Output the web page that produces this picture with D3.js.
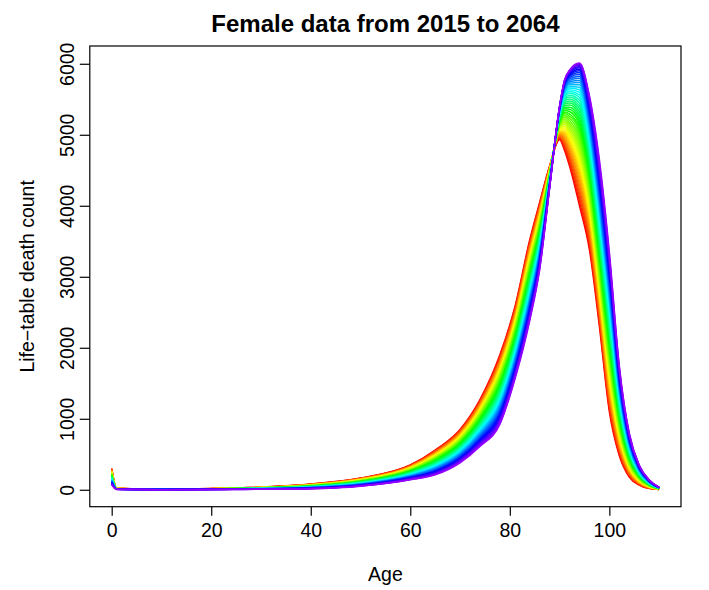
<!DOCTYPE html>
<html>
<head>
<meta charset="utf-8">
<script src="https://cdn.jsdelivr.net/npm/d3@7"></script>
<style>
  body { margin: 0; background: #fff; }
  text { font-family: "Liberation Sans", Arial, Helvetica, sans-serif; }
</style>
</head>
<body>
<div id="chart"></div>
<script>
// ages sampled from the curves, and the forecast years
const ages = [0, 1, 10, 25, 40, 50, 60, 65, 70, 74, 78, 81, 84, 86, 88, 90, 91, 92, 94, 96, 98, 100, 102, 104, 106, 108, 110];
const years = [2015, 2016, 2017, 2018, 2019, 2020, 2021, 2022, 2023, 2024,
               2025, 2026, 2027, 2028, 2029, 2030, 2031, 2032, 2033, 2034,
               2035, 2036, 2037, 2038, 2039, 2040, 2041, 2042, 2043, 2044,
               2045, 2046, 2047, 2048, 2049, 2050, 2051, 2052, 2053, 2054,
               2055, 2056, 2057, 2058, 2059, 2060, 2061, 2062, 2063, 2064];
const ageTicks = [0, 20, 40, 60, 80, 100];
const countTicks = [0, 1000, 2000, 3000, 4000, 5000, 6000];

// life-table death count, one row per age, one value per year (2015 ... 2064)
const deathsByAge = [
  /* 0 */   [300,295,291,286,281,277,272,267,262,258,253,248,244,239,234,230,225,220,216,211,206,201,197,192,187,183,178,173,169,164,159,154,150,145,140,136,131,126,122,117,112,108,103,98,93,89,84,79,75,70],
  /* 1 */   [20,20,19,19,19,18,18,18,18,17,17,17,16,16,16,15,15,15,14,14,14,14,13,13,13,12,12,12,11,11,11,11,10,10,10,9,9,9,8,8,8,7,7,7,7,6,6,6,5,5],
  /* 10 */  [8,8,8,8,8,7,7,7,7,7,7,7,7,6,6,6,6,6,6,6,6,5,5,5,5,5,5,5,5,4,4,4,4,4,4,4,4,3,3,3,3,3,3,3,3,2,2,2,2,2],
  /* 25 */  [25,25,24,24,23,23,23,22,22,21,21,21,20,20,19,19,18,18,18,17,17,16,16,16,15,15,14,14,14,13,13,12,12,12,11,11,10,10,9,9,9,8,8,7,7,7,6,6,5,5],
  /* 40 */  [80,79,77,76,75,73,72,71,69,68,67,65,64,63,61,60,59,57,56,55,53,52,51,49,48,47,46,44,43,42,40,39,38,36,35,34,32,31,30,28,27,26,24,23,22,20,19,18,16,15],
  /* 50 */  [165,163,160,158,156,153,151,149,146,144,142,139,137,134,132,130,127,125,123,120,118,116,113,111,109,106,104,102,99,97,95,92,90,88,85,83,81,78,76,73,71,69,66,64,62,59,57,55,52,50],
  /* 60 */  [350,346,341,337,333,329,324,320,316,311,307,303,299,294,290,286,281,277,273,269,264,260,256,251,247,243,239,234,230,226,221,217,213,209,204,200,196,191,187,183,179,174,170,166,161,157,153,149,144,140],
  /* 65 */  [560,553,546,539,531,524,517,510,503,496,489,481,474,467,460,453,446,439,431,424,417,410,403,396,389,381,374,367,360,353,346,339,331,324,317,310,303,296,289,281,274,267,260,253,246,239,231,224,217,210],
  /* 70 */  [850,840,831,821,812,802,792,783,773,764,754,745,735,725,716,706,697,687,677,668,658,649,639,629,620,610,601,591,581,572,562,553,543,534,524,514,505,495,486,476,466,457,447,438,428,418,409,399,390,380],
  /* 74 */  [1270,1257,1243,1230,1216,1203,1189,1176,1162,1149,1135,1122,1108,1095,1081,1068,1054,1041,1028,1014,1001,987,974,960,947,933,920,906,893,879,866,852,839,826,812,799,785,772,758,745,731,718,704,691,677,664,650,637,623,610],
  /* 78 */  [1900,1881,1859,1841,1820,1799,1781,1760,1739,1721,1700,1679,1661,1640,1619,1601,1580,1559,1541,1520,1499,1481,1460,1439,1421,1400,1379,1361,1340,1319,1301,1280,1259,1241,1220,1199,1181,1160,1139,1121,1100,1079,1061,1040,1019,1001,980,959,941,920],
  /* 81 */  [2570,2549,2528,2508,2487,2466,2445,2424,2403,2383,2362,2341,2320,2299,2279,2258,2237,2216,2195,2174,2154,2133,2112,2091,2070,2050,2029,2008,1987,1966,1946,1925,1904,1883,1862,1841,1821,1800,1779,1758,1737,1717,1696,1675,1654,1633,1612,1592,1571,1550],
  /* 84 */  [3520,3497,3473,3450,3427,3404,3380,3357,3334,3311,3287,3264,3241,3218,3194,3171,3148,3124,3101,3078,3055,3031,3008,2985,2962,2938,2915,2892,2869,2845,2822,2799,2776,2752,2729,2706,2682,2659,2636,2613,2589,2566,2543,2520,2496,2473,2450,2427,2403,2380],
  /* 86 */  [4050,4031,4011,3992,3972,3953,3934,3914,3895,3876,3856,3837,3817,3798,3779,3759,3740,3720,3701,3682,3662,3643,3623,3604,3585,3565,3546,3527,3507,3488,3468,3449,3430,3410,3391,3371,3352,3333,3313,3294,3274,3255,3236,3216,3197,3177,3158,3139,3119,3100],
  /* 88 */  [4560,4554,4547,4541,4535,4528,4522,4516,4509,4503,4497,4490,4484,4478,4471,4465,4459,4452,4446,4440,4433,4427,4421,4414,4408,4402,4396,4389,4383,4377,4370,4364,4358,4351,4345,4339,4332,4326,4320,4313,4307,4301,4294,4288,4282,4275,4269,4263,4256,4250],
  /* 90 */  [4930,4944,4958,4972,4986,5000,5014,5027,5040,5053,5066,5079,5092,5104,5116,5128,5140,5152,5163,5175,5186,5197,5208,5218,5229,5239,5249,5259,5268,5277,5286,5295,5304,5312,5320,5328,5336,5343,5350,5357,5363,5369,5375,5380,5385,5389,5393,5396,5399,5400],
  /* 91 */  [4780,4810,4840,4870,4899,4928,4956,4984,5012,5040,5067,5094,5120,5147,5172,5198,5223,5248,5272,5296,5319,5342,5365,5387,5409,5431,5452,5472,5492,5512,5531,5550,5568,5585,5602,5619,5635,5650,5665,5679,5692,5705,5717,5728,5738,5747,5755,5762,5767,5770],
  /* 92 */  [4560,4601,4642,4682,4722,4761,4800,4839,4877,4914,4951,4988,5024,5060,5095,5130,5164,5198,5231,5263,5295,5327,5358,5388,5418,5447,5476,5504,5531,5558,5584,5610,5634,5658,5681,5704,5726,5746,5766,5786,5804,5821,5837,5852,5866,5879,5890,5899,5906,5910],
  /* 94 */  [4000,4061,4122,4182,4241,4300,4358,4415,4472,4527,4583,4637,4691,4744,4797,4848,4899,4949,4999,5047,5095,5142,5188,5233,5278,5321,5364,5405,5446,5486,5525,5563,5599,5635,5670,5703,5735,5766,5796,5825,5852,5877,5901,5924,5944,5963,5980,5993,6004,6010],
  /* 96 */  [3380,3435,3490,3545,3599,3652,3706,3759,3812,3864,3916,3968,4019,4070,4120,4170,4220,4269,4318,4366,4414,4461,4508,4555,4601,4647,4692,4736,4781,4824,4867,4910,4952,4993,5034,5074,5114,5153,5191,5229,5265,5301,5336,5371,5404,5436,5467,5497,5525,5550],
  /* 98 */  [2300,2348,2396,2444,2492,2540,2588,2636,2684,2732,2780,2828,2876,2923,2971,3019,3067,3115,3163,3211,3259,3307,3355,3403,3451,3499,3547,3595,3643,3691,3739,3787,3835,3883,3931,3979,4027,4074,4122,4170,4218,4266,4314,4362,4410,4458,4506,4554,4602,4650],
  /* 100 */ [1100,1146,1192,1238,1284,1330,1376,1421,1467,1513,1559,1605,1651,1697,1743,1789,1835,1881,1927,1972,2018,2064,2110,2156,2202,2248,2294,2340,2386,2432,2478,2523,2569,2615,2661,2707,2753,2799,2845,2891,2937,2983,3029,3074,3120,3166,3212,3258,3304,3350],
  /* 102 */ [480,506,532,558,584,610,636,661,687,713,739,765,791,817,843,869,895,921,947,972,998,1024,1050,1076,1102,1128,1154,1180,1206,1232,1258,1283,1309,1335,1361,1387,1413,1439,1465,1491,1517,1543,1569,1594,1620,1646,1672,1698,1724,1750],
  /* 104 */ [180,193,205,218,231,243,256,269,281,294,307,319,332,344,357,370,382,395,408,420,433,446,458,471,484,496,509,522,534,547,560,572,585,598,610,623,636,648,661,673,686,699,711,724,737,749,762,775,787,800],
  /* 106 */ [65,71,77,82,88,94,100,106,112,117,123,129,135,141,146,152,158,164,170,176,181,187,193,199,205,210,216,222,228,234,239,245,251,257,263,269,274,280,286,292,298,303,309,315,321,327,333,338,344,350],
  /* 108 */ [18,20,23,25,28,30,33,35,38,40,43,45,48,50,53,55,58,60,63,65,68,70,73,75,78,80,83,85,88,90,93,95,98,100,103,105,108,110,113,115,118,120,123,125,128,130,133,135,138,140],
  /* 110 */ [4,5,5,6,7,7,8,8,9,10,10,11,12,12,13,13,14,15,15,16,17,17,18,19,19,20,20,21,22,22,23,24,24,25,26,26,27,27,28,29,29,30,31,31,32,32,33,34,34,35]
];

const width = 709, height = 590;
const margin = {top: 46, right: 28, bottom: 83.3, left: 89.8};
const font = "'Liberation Sans', Arial, Helvetica, sans-serif";

// one series per year
const series = years.map((yr, i) => ({
  year: yr,
  values: ages.map((a, j) => [a, deathsByAge[j][i]])
}));

// R style 4% padding on both axes
const pad = ([a, b]) => [a - 0.04 * (b - a), b + 0.04 * (b - a)];

const x = d3.scaleLinear()
    .domain(pad(d3.extent(ages)))
    .range([margin.left, width - margin.right]);

const y = d3.scaleLinear()
    .domain(pad(d3.extent(deathsByAge.flat())))
    .range([height - margin.bottom, margin.top]);

const color = i => d3.hsl(i / (years.length - 1) * 275, 1, 0.5).toString();

const svg = d3.select("#chart").append("svg")
    .attr("width", width)
    .attr("height", height);

const line = d3.line()
    .x(d => x(d[0]))
    .y(d => y(d[1]))
    .curve(d3.curveMonotoneX);

svg.append("g")
    .attr("fill", "none")
    .attr("stroke-width", 1.5)
    .attr("stroke-linejoin", "round")
  .selectAll("path")
  .data(series)
  .join("path")
    .attr("stroke", (d, i) => color(i))
    .attr("d", d => line(d.values));

// box
svg.append("rect")
    .attr("x", margin.left)
    .attr("y", margin.top)
    .attr("width", width - margin.left - margin.right)
    .attr("height", height - margin.top - margin.bottom)
    .attr("fill", "none")
    .attr("stroke", "#000")
    .attr("stroke-width", 1.2);

// x axis
svg.append("g")
    .attr("transform", `translate(0,${height - margin.bottom})`)
    .call(d3.axisBottom(x).tickValues(ageTicks).tickSize(9).tickFormat(d3.format("d")))
    .call(g => g.select(".domain").remove())
    .call(g => g.selectAll("line").attr("stroke-width", 1.2))
    .call(g => g.selectAll("text")
        .attr("y", 30.3)
        .attr("dy", 0)
        .attr("font-size", 19.5)
        .attr("font-family", font));

// y axis, labels turned like R's las = 0
svg.append("g")
    .attr("transform", `translate(${margin.left},0)`)
    .call(d3.axisLeft(y).tickValues(countTicks).tickSize(10).tickFormat(d3.format("d")))
    .call(g => g.select(".domain").remove())
    .call(g => g.selectAll("line").attr("stroke-width", 1.2))
    .call(g => g.selectAll("text")
        .attr("transform", "rotate(-90)")
        .attr("x", 0)
        .attr("y", -16.3)
        .attr("dy", 0)
        .attr("text-anchor", "middle")
        .attr("font-size", 19.5)
        .attr("font-family", font));

// title and axis titles
svg.append("text")
    .attr("x", (margin.left + width - margin.right) / 2)
    .attr("y", 32)
    .attr("text-anchor", "middle")
    .attr("font-size", 24)
    .attr("font-weight", "bold")
    .text("Female data from 2015 to 2064");

svg.append("text")
    .attr("x", (margin.left + width - margin.right) / 2)
    .attr("y", 581)
    .attr("text-anchor", "middle")
    .attr("font-size", 19.5)
    .text("Age");

svg.append("text")
    .attr("transform", `translate(33.5,${(margin.top + height - margin.bottom) / 2}) rotate(-90)`)
    .attr("text-anchor", "middle")
    .attr("font-size", 19.5)
    .text("Life\u2212table death count");
</script>
</body>
</html>
